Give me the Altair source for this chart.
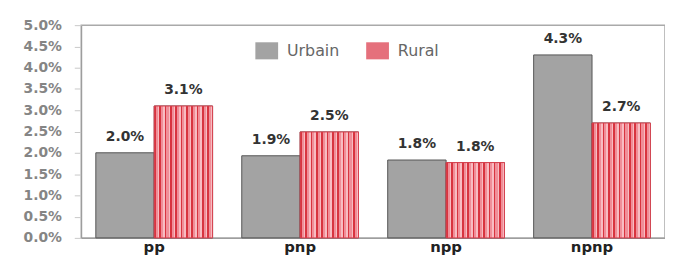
import altair as alt
import pandas as pd

categories = ["pp", "pnp", "npp", "npnp"]
series = ["Urbain", "Rural"]
urbain = [0.0200, 0.0193, 0.0183, 0.0430]
rural = [0.0310, 0.0249, 0.0177, 0.0270]

rows = []
for c, u, r in zip(categories, urbain, rural):
    rows.append({"cat": c, "serie": "Urbain", "val": u})
    rows.append({"cat": c, "serie": "Rural", "val": r})
df = pd.DataFrame(rows)

RED = "#d8343f"
PINK = "#f08e98"
LIGHT = "#f8bcc2"
n = 11
stops = []
for i in range(n):
    a = i / n
    b = (i + 0.3) / n
    c2 = (i + 0.7) / n
    d = (i + 1) / n
    stops += [
        {"offset": a, "color": RED},
        {"offset": b, "color": RED},
        {"offset": b, "color": PINK},
        {"offset": c2, "color": PINK},
        {"offset": c2, "color": LIGHT},
        {"offset": d, "color": LIGHT},
    ]
stripes = {"gradient": "linear", "x1": 0, "x2": 1, "y1": 0, "y2": 0, "stops": stops}

FONT = "DejaVu Sans"

xenc = alt.X("cat:N", sort=categories,
             scale=alt.Scale(paddingInner=0.2, paddingOuter=0.1),
             axis=alt.Axis(title=None, labelAngle=0, labelFont=FONT,
                           labelFontSize=15, labelFontWeight="bold", labelColor="#222",
                           ticks=False, domainColor="#999", labelPadding=2))
xoff = alt.XOffset("serie:N", sort=series, scale=alt.Scale(domain=series, paddingInner=0, paddingOuter=0))
yenc = alt.Y("val:Q", scale=alt.Scale(domain=[0, 0.05]),
             axis=alt.Axis(title=None, format=".1%", values=[i * 0.005 for i in range(11)],
                           grid=False, labelFont=FONT, labelFontSize=14,
                           labelFontWeight="bold", labelColor="#858585", tickColor="#c8c8c8",
                           tickSize=7, labelPadding=13, domainColor="#999"))

base = alt.Chart(df)

bars = base.mark_bar(stroke="#555", strokeWidth=1).encode(
    x=xenc, xOffset=xoff, y=yenc,
    color=alt.Color("serie:N", sort=series,
                    scale=alt.Scale(domain=series, range=["#a3a3a3", "#e5707c"]),
                    legend=alt.Legend(title=None, orient="none", legendX=176, legendY=14,
                                      direction="horizontal", symbolType="M-1,-0.75H1V0.75H-1Z",
                                      symbolSize=529, symbolStrokeWidth=0, symbolOpacity=1,
                                      labelFont=FONT, labelFontSize=16,
                                      labelColor="#666", labelOffset=9, columnPadding=27)),
)

rural_bars = base.transform_filter(alt.datum.serie == "Rural").mark_bar(
    fill=stripes, stroke="#d9404e", strokeWidth=1).encode(x=xenc, xOffset=xoff, y=yenc)

labels = base.mark_text(dy=-9, baseline="bottom", font=FONT, fontSize=14,
                        fontWeight="bold", color="#333").encode(
    x=xenc, xOffset=xoff, y=yenc, text=alt.Text("val:Q", format=".1%"))

chart = alt.layer(bars, rural_bars, labels).properties(
    width=590, height=215,
    autosize=alt.AutoSizeParams(type="none"),
    padding={"left": 74, "top": 16, "right": 0, "bottom": 20},
).configure_view(stroke="#aaa", strokeWidth=1.5).configure_legend(
    symbolStrokeColor="transparent")

chart.save("out.html", embed_options={"renderer": "svg", "actions": False})
